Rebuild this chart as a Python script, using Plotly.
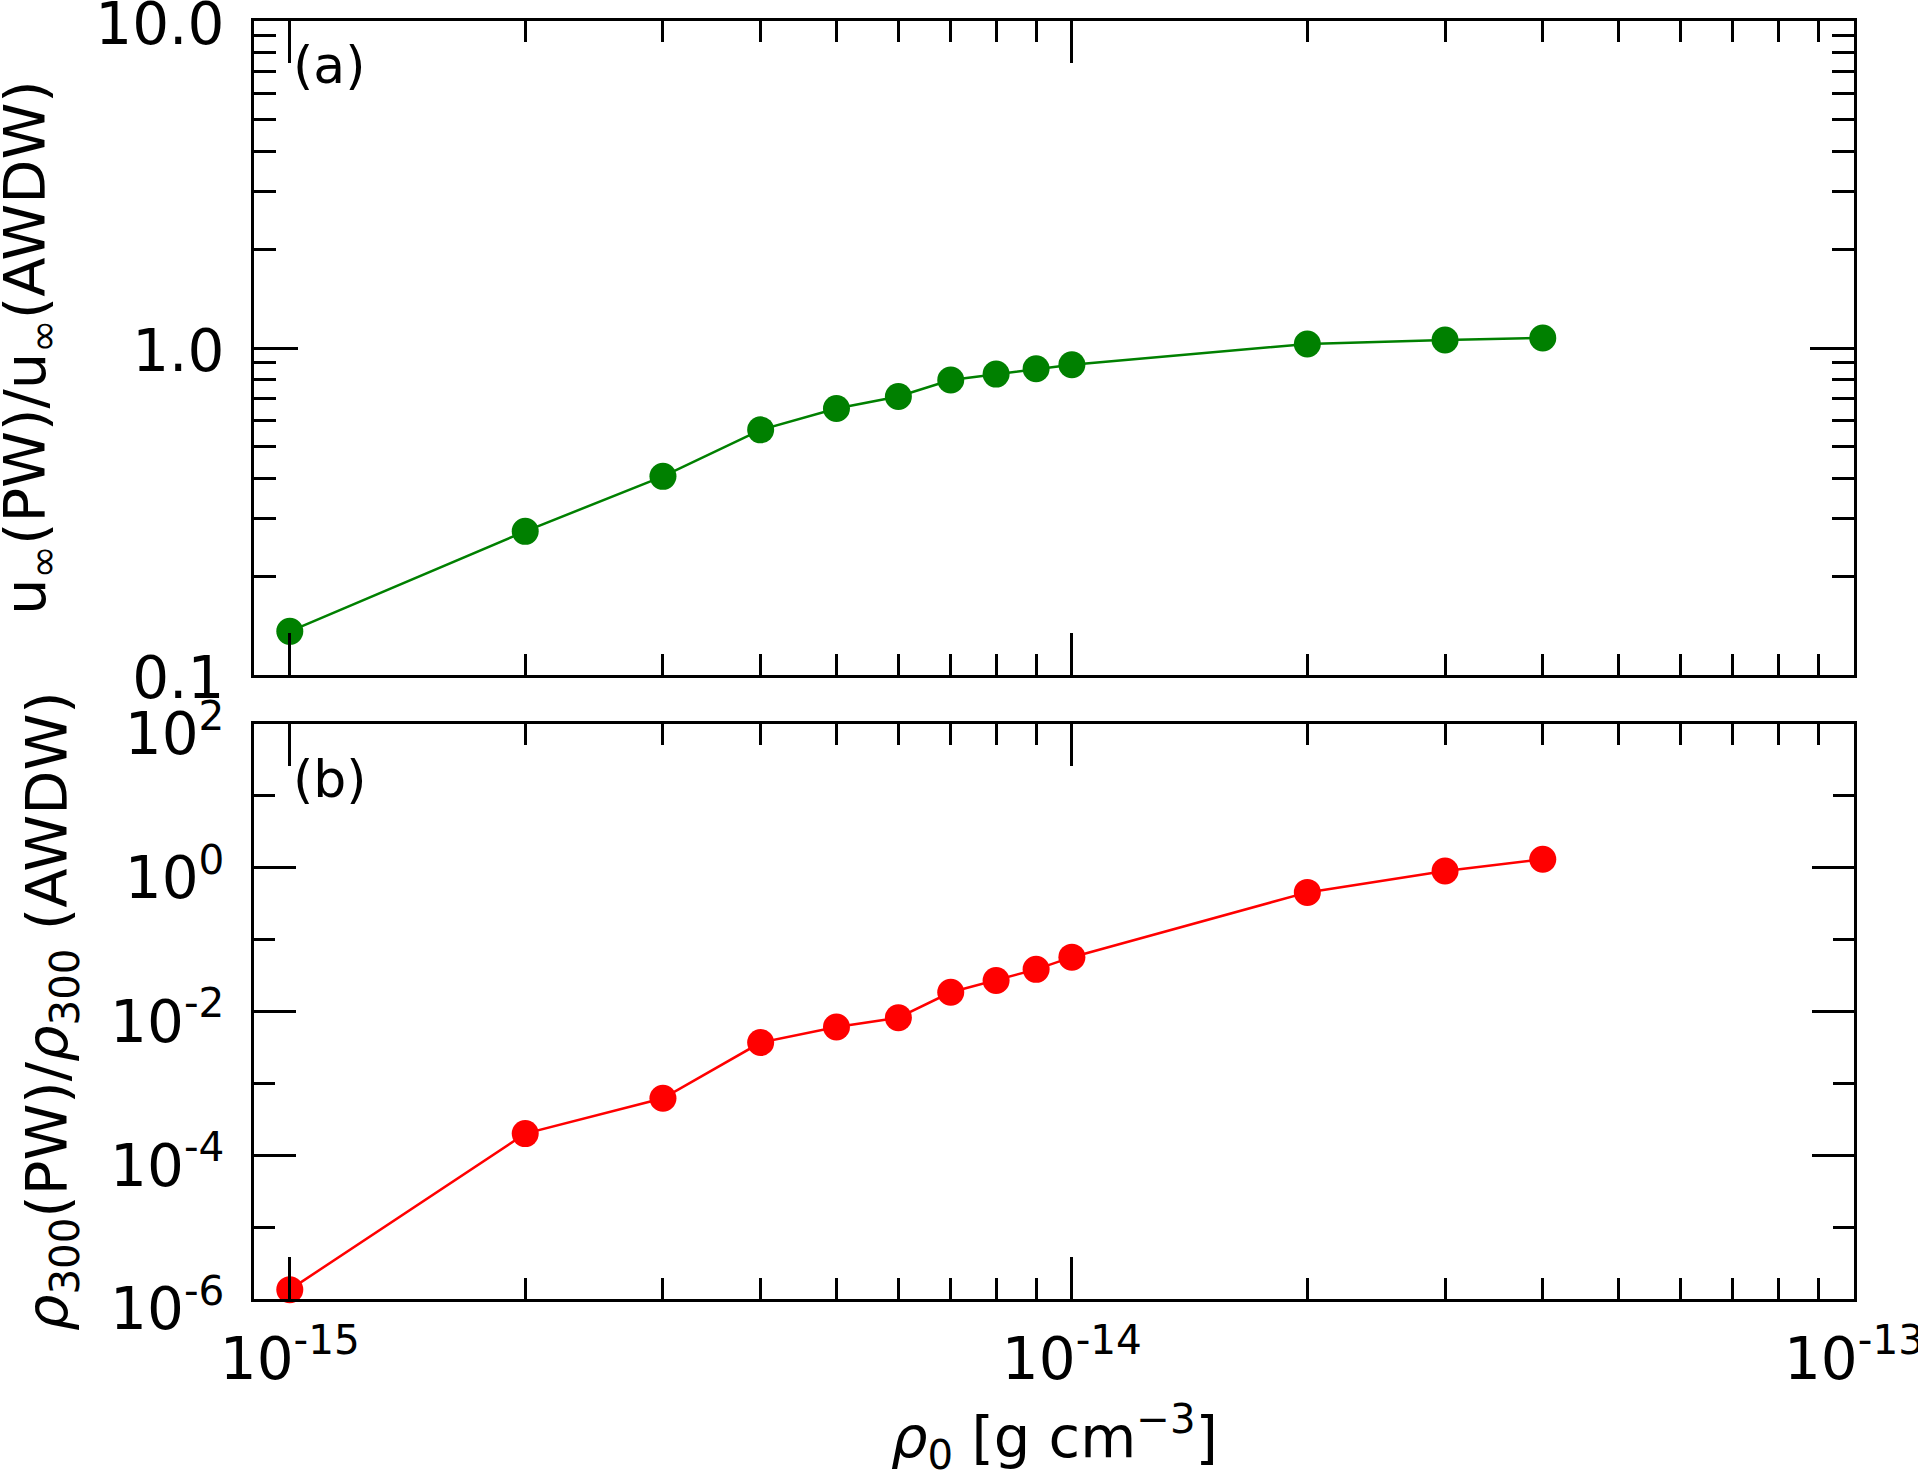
import numpy as np
import plotly.graph_objects as go

# density rho_0 [g cm^-3]
rho0 = [1e-15, 2e-15, 3e-15, 4e-15, 5e-15, 6e-15, 7e-15, 8e-15, 9e-15,
        1e-14, 2e-14, 3e-14, 4e-14]

# (a) terminal velocity ratio u_inf(PW)/u_inf(AWDW)
u_ratio = [0.136, 0.275, 0.405, 0.562, 0.653, 0.711, 0.798, 0.832, 0.864,
           0.889, 1.029, 1.058, 1.073]

# (b) density ratio rho_300(PW)/rho_300(AWDW)
rho_ratio = [1.35e-6, 2.0e-4, 6.2e-4, 3.7e-3, 6.1e-3, 8.2e-3, 1.85e-2, 2.7e-2,
             3.86e-2, 5.7e-2, 0.454, 0.90, 1.31]

x_major = [1e-15, 1e-14, 1e-13]
x_major_text = ["10<sup>-15</sup>", "10<sup>-14</sup>", "10<sup>-13</sup>"]
x_minor = [k * 10.0 ** e for e in (-15, -14) for k in range(2, 10)]

ya_major = [0.1, 1.0, 10.0]
ya_major_text = ["0.1", "1.0", "10.0"]
ya_minor = [k * 10.0 ** e for e in (-1, 0) for k in range(2, 10)]

yb_major = [1e-6, 1e-4, 1e-2, 1e0, 1e2]
yb_major_text = ["10<sup>-6</sup>", "10<sup>-4</sup>", "10<sup>-2</sup>",
                 "10<sup>0</sup>", "10<sup>2</sup>"]
yb_minor = [1e-5, 1e-3, 1e-1, 1e1]

W, H = 1918, 1473
FONT = "DejaVu Sans"


def px(x):
    return x / W


def py(y):
    return 1 - y / H


fig = go.Figure()

fig.add_trace(go.Scatter(x=rho0, y=u_ratio, mode="lines+markers",
                         line=dict(color="#008000", width=2.5),
                         marker=dict(color="#008000", size=27),
                         xaxis="x", yaxis="y", showlegend=False))
fig.add_trace(go.Scatter(x=rho0, y=rho_ratio, mode="lines+markers",
                         line=dict(color="#ff0000", width=2.5),
                         marker=dict(color="#ff0000", size=27),
                         xaxis="x2", yaxis="y2", showlegend=False, cliponaxis=False))

common = dict(type="log", showline=True, linecolor="black", linewidth=3,
              mirror="allticks", ticks="inside", tickwidth=2.5, tickcolor="black",
              showgrid=False, zeroline=False, automargin=False,
              ticklabeloverflow="allow",
              tickfont=dict(family=FONT, size=58, color="black"))
minor_x = dict(tickvals=x_minor, ticklen=21, tickwidth=2.5, ticks="inside", tickcolor="black")

xr = [np.log10(9e-16), -13]
fig.update_layout(
    template="none",
    width=W, height=H, autosize=False,
    margin=dict(l=0, r=0, t=0, b=0),
    paper_bgcolor="white", plot_bgcolor="white",
    xaxis=dict(common, domain=[px(254), px(1854)], range=xr, anchor="y",
               tickmode="array", tickvals=x_major, ticklen=42, showticklabels=False,
               minor=minor_x),
    yaxis=dict(common, domain=[py(675), py(21)], range=[-1, 1], anchor="x",
               tickmode="array", tickvals=ya_major, ticktext=ya_major_text, ticklen=44,
               ticklabelstandoff=15, ticklabelshift=3,
               minor=dict(tickvals=ya_minor, ticklen=22, tickwidth=2.5, ticks="inside", tickcolor="black")),
    xaxis2=dict(common, domain=[px(254), px(1854)], range=xr, anchor="y2",
                tickmode="array", tickvals=x_major, ticktext=x_major_text, ticklen=42,
                ticklabelstandoff=7, minor=minor_x),
    yaxis2=dict(common, domain=[py(1299), py(724)], range=[-6, 2], anchor="x2",
                tickmode="array", tickvals=yb_major, ticktext=yb_major_text, ticklen=42,
                ticklabelstandoff=15, ticklabelshift=10,
                minor=dict(tickvals=yb_minor, ticklen=21, tickwidth=2.5, ticks="inside", tickcolor="black")),
)

lab = dict(family=FONT, size=57.5, color="black")
fig.add_annotation(x=px(29), y=py(348), xref="paper", yref="paper",
                   text="u<sub>∞</sub>(PW)/u<sub>∞</sub>(AWDW)", textangle=-90,
                   showarrow=False, font=lab, xanchor="center", yanchor="middle")
fig.add_annotation(x=px(51), y=py(1011), xref="paper", yref="paper",
                   text="<i>ρ</i><sub>300</sub>(PW)/<i>ρ</i><sub>300</sub> (AWDW)", textangle=-90,
                   showarrow=False, font=lab, xanchor="center", yanchor="middle")
fig.add_annotation(x=px(1054), y=py(1437), xref="paper", yref="paper",
                   text="<i>ρ</i><sub>0</sub> [g cm<sup>−3</sup>]",
                   showarrow=False, font=lab, xanchor="center", yanchor="middle")
fig.add_annotation(x=px(291), y=py(65), xref="paper", yref="paper", text="(a)",
                   showarrow=False, font=dict(family=FONT, size=52, color="black"),
                   xanchor="left", yanchor="middle")
fig.add_annotation(x=px(291), y=py(779), xref="paper", yref="paper", text="(b)",
                   showarrow=False, font=dict(family=FONT, size=52, color="black"),
                   xanchor="left", yanchor="middle")

# drop the default 8px page margin so the figure fills the window exactly
fig.write_html("out.html", config={"displayModeBar": False},
               post_script="document.body.style.margin = '0px';")
